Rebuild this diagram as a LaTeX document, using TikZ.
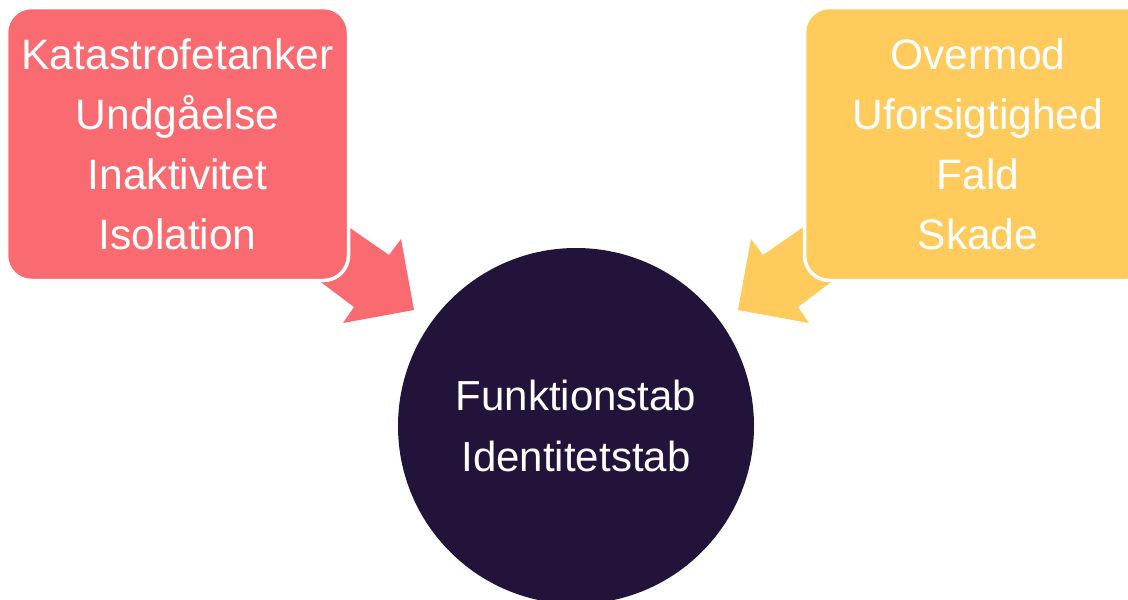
\documentclass[tikz,border=0pt]{standalone}
\usepackage{fontspec}
\setmainfont{Liberation Sans}
\definecolor{cred}{HTML}{F96B70}
\definecolor{cyel}{HTML}{FECB5C}
\definecolor{cdark}{HTML}{22133B}
\begin{document}
\begin{tikzpicture}[x=1pt,y=-1pt,
  box/.style={rectangle, rounded corners=25pt, draw=white, line width=3.5pt,
    minimum width=342pt, minimum height=273pt, text=white, align=center,
    font=\fontsize{42.5}{60}\selectfont, inner sep=0pt},
  hub/.style={circle, fill=cdark, minimum size=356pt, text=white, align=center,
    font=\fontsize{42}{61}\selectfont, inner sep=0pt}]
\useasboundingbox (0,0) rectangle (1128,600);
\clip (0,0) rectangle (1128,600);
% left arrow
\coordinate (la1) at (311,201);
\coordinate (la2) at (389,255);
\coordinate (la3) at (401,239);
\coordinate (la4) at (414,310);
\coordinate (la5) at (343,323);
\coordinate (la6) at (354,307);
\coordinate (la7) at (290,259);
\fill[cred] (la1) -- (la2) -- (la3) -- (la4) -- (la5) -- (la6) -- (la7) -- cycle;
% right arrow
\coordinate (ra1) at (841,201);
\coordinate (ra2) at (763,255);
\coordinate (ra3) at (751,239);
\coordinate (ra4) at (738,310);
\coordinate (ra5) at (809,323);
\coordinate (ra6) at (798,307);
\coordinate (ra7) at (862,259);
\fill[cyel] (ra1) -- (ra2) -- (ra3) -- (ra4) -- (ra5) -- (ra6) -- (ra7) -- cycle;
% boxes
\node[box, fill=cred] (left) at (177.5,144) {Katastrofetanker\\Undgåelse\\Inaktivitet\\Isolation};
\node[box, fill=cyel, minimum width=347pt] (right) at (978,144) {Overmod\\Uforsigtighed\\Fald\\Skade};
% hub
\node[hub] (hub) at (576,426) {Funktionstab\\Identitetstab};
\end{tikzpicture}
\end{document}
